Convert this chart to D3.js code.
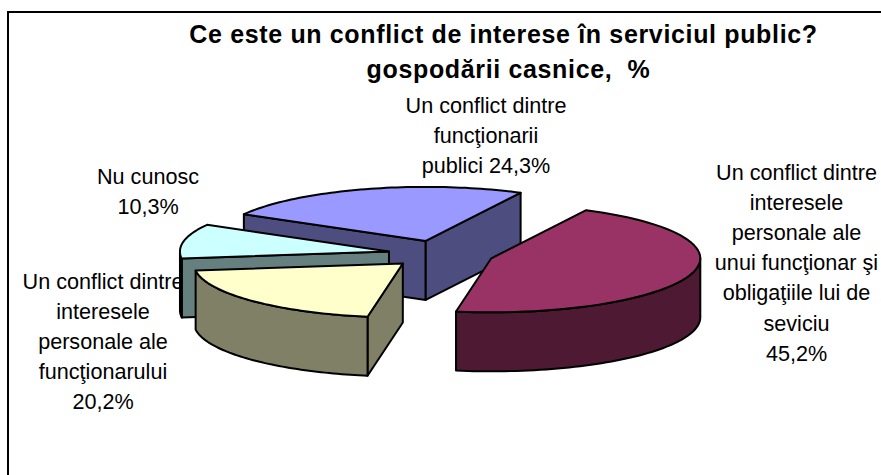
<!DOCTYPE html>
<html><head><meta charset="utf-8">
<script src="https://cdn.jsdelivr.net/npm/d3@7"></script>
<style>html,body{margin:0;padding:0;background:#fff}svg{display:block}text{font-family:"Liberation Sans",Arial,sans-serif;fill:#000;white-space:pre}</style>
</head><body><svg id="c" width="881" height="475"></svg>
<script>
const titleLines = ["Ce este un conflict de interese în serviciul public?", "gospodării casnice,  %"];
const categories = ["majority", "personal", "none", "officials"];
const values = [45.2, 20.2, 10.3, 24.3];
const topColors = ["#993366", "#ffffcc", "#ccffff", "#9999ff"];
const wallColors = ["#4d1933", "#808066", "#668080", "#4d4d80"];
const labelLines = [
  ["Un conflict dintre", "interesele", "personale ale", "unui funcţionar şi", "obligaţiile lui de", "seviciu", "45,2%"],
  ["Un conflict dintre", "interesele", "personale ale", "funcţionarului", "20,2%"],
  ["Nu cunosc", "10,3%"],
  ["Un conflict dintre", "funcţionarii", "publici 24,3%"]
];
const labelAnchors = [[796.5, 180], [103, 289], [148, 184], [486, 113]];
const drawOrder = [3, 2, 1, 0];

const cx = 441, cy = 254, rx = 209, ry = 54, depth = 59, explode = 53;
const svg = d3.select("#c");

svg.append("rect").attr("x", 8).attr("y", 12).attr("width", 1000).attr("height", 1000)
  .attr("fill", "#fff").attr("stroke", "#000").attr("stroke-width", 2);

const pie = d3.pie().sort(null).startAngle(27 * Math.PI / 180).endAngle(387 * Math.PI / 180);
const arcs = pie(values);
const line = d3.line();

arcs.forEach(a => {
  a.t0 = a.startAngle - Math.PI / 2;
  a.t1 = a.endAngle - Math.PI / 2;
  const mid = (a.t0 + a.t1) / 2;
  a.cx = cx + explode * Math.cos(mid);
  a.cy = cy + explode * (ry / rx) * Math.sin(mid);
});
const rim = (a, t) => [a.cx + rx * Math.cos(t), a.cy + ry * Math.sin(t)];
const samples = (t0, t1) => d3.range(0, 61).map(k => t0 + (t1 - t0) * k / 60);
const down = p => [p[0], p[1] + depth];
const stroke = g => g.attr("stroke", "#000").attr("stroke-width", 2).attr("stroke-linejoin", "round");

drawOrder.forEach(i => {
  const a = arcs[i];
  const g = svg.append("g").attr("class", "slice " + categories[i]);
  const apex = [a.cx, a.cy];
  [[a.t0, a.t0 - Math.PI / 2], [a.t1, a.t1 + Math.PI / 2]].forEach(([t, n]) => {
    if (Math.sin(n) > 0) {
      const e = rim(a, t);
      g.append("path").attr("d", line([apex, e, down(e), down(apex)]) + "Z")
        .attr("fill", wallColors[i]).call(stroke);
    }
  });
  [0, 2 * Math.PI].forEach(off => {
    const lo = Math.max(a.t0, off), hi = Math.min(a.t1, off + Math.PI);
    if (hi > lo) {
      const pts = samples(lo, hi).map(t => rim(a, t));
      g.append("path").attr("d", line(pts.concat(pts.map(down).reverse())) + "Z")
        .attr("fill", wallColors[i]).call(stroke);
    }
  });
  g.append("path").attr("d", line([apex].concat(samples(a.t0, a.t1).map(t => rim(a, t)))) + "Z")
    .attr("fill", topColors[i]).call(stroke);
});

const title = svg.append("g").attr("font-weight", "bold").attr("font-size", 25)
  .attr("letter-spacing", 0.65).attr("text-anchor", "middle");
title.append("text").attr("x", 503.5).attr("y", 43).text(titleLines[0]);
title.append("text").attr("x", 508.5).attr("y", 78).text(titleLines[1]);

labelLines.forEach((lines, i) => {
  const g = svg.append("g").attr("font-size", 21.6).attr("text-anchor", "middle");
  lines.forEach((s, j) => g.append("text").attr("x", labelAnchors[i][0]).attr("y", labelAnchors[i][1] + j * 30.1).text(s));
});
</script></body></html>
